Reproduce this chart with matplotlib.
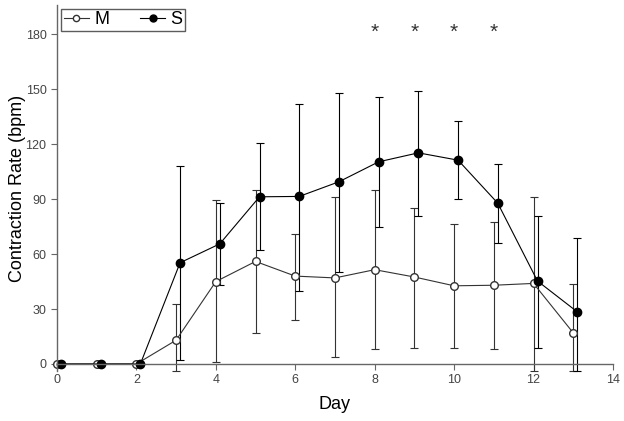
import numpy as np
import matplotlib
matplotlib.use("Agg")
import matplotlib.pyplot as plt
from matplotlib.lines import Line2D

plt.rcParams['font.family'] = ['Liberation Sans', 'DejaVu Sans']

days = np.arange(14)
m_mean = [0, 0, 0, 13, 45, 56, 48, 47, 51.5, 47.5, 42.7, 43, 44, 17]
m_upper = [0, 0, 0, 33, 89.5, 95, 71, 91, 95, 85, 76.5, 77.6, 91, 43.6]
m_lower = [0, 0, 0, -4, 1, 17, 24, 4, 8, 9, 8.7, 8, -4, -4]

s_mean = [0, 0, 0, 55.3, 65.6, 91.3, 91.5, 99.5, 110.4, 115.3, 111.3, 87.8, 45.3, 28.5]
s_upper = [0, 0, 0, 108, 88, 120.5, 142, 148, 146, 149, 132.7, 109, 81, 68.7]
s_lower = [0, 0, 0, 2, 43, 62, 40, 50, 75, 81, 90, 66, 8.7, -4]

star_days = [8, 9, 10, 11]
star_y = 181

m_mean = np.array(m_mean)
s_mean = np.array(s_mean)
m_err = [m_mean - np.array(m_lower), np.array(m_upper) - m_mean]
s_err = [s_mean - np.array(s_lower), np.array(s_upper) - s_mean]
# no error bars on the zero days
m_err[0][:3] = 0
m_err[1][:3] = 0
s_err[0][:3] = 0
s_err[1][:3] = 0

fig = plt.figure(figsize=(6.24, 4.21), dpi=100)
ax = fig.add_axes([0.0913, 0.118, 0.891, 0.870])

ax.errorbar(days, m_mean, yerr=m_err, fmt='o-', color='#333333', mfc='white', mec='#333333',
            ms=5.5, lw=0.8, elinewidth=0.8, capsize=3, capthick=0.8, clip_on=False)
ax.errorbar(days + 0.1, s_mean, yerr=s_err, fmt='o-', color='black', mfc='black', mec='black',
            ms=6, lw=0.8, elinewidth=0.8, capsize=3, capthick=0.8, clip_on=False)

for d in star_days:
    ax.text(d, star_y, '*', ha='center', va='center', fontsize=15, color='#333333')

ax.set_xlim(0, 14)
ax.set_ylim(-4, 196)
ax.spines['bottom'].set_position(('data', 0))
ax.spines['top'].set_visible(False)
ax.spines['right'].set_visible(False)
for s in ['left', 'bottom']:
    ax.spines[s].set_color('#666666')
    ax.spines[s].set_linewidth(1.0)
ax.set_xticks(np.arange(0, 15, 2))
ax.set_yticks(np.arange(0, 181, 30))
ax.tick_params(direction='out', length=4, color='#666666', labelcolor='#444444', labelsize=9)

ax.set_xlabel('Day', fontsize=13)
ax.xaxis.set_label_coords(0.5, -0.068)
ax.set_ylabel('Contraction Rate (bpm)', fontsize=13)
ax.yaxis.set_label_coords(-0.056, 0.5)

handles = [Line2D([], [], color='#333333', lw=0.8, marker='o', mfc='white', mec='#333333', ms=4.5),
           Line2D([], [], color='black', lw=0.8, marker='o', mfc='black', mec='black', ms=5)]
leg = ax.legend(handles, ['M', 'S'], loc='upper left', bbox_to_anchor=(0.007, 0.99), ncol=2,
                fontsize=13, frameon=True, fancybox=False, edgecolor='#333333', borderpad=0.15,
                handlelength=1.4, handletextpad=0.3, columnspacing=1.7, borderaxespad=0)
leg.get_frame().set_linewidth(1.0)

fig.savefig('out.png', dpi=100)
